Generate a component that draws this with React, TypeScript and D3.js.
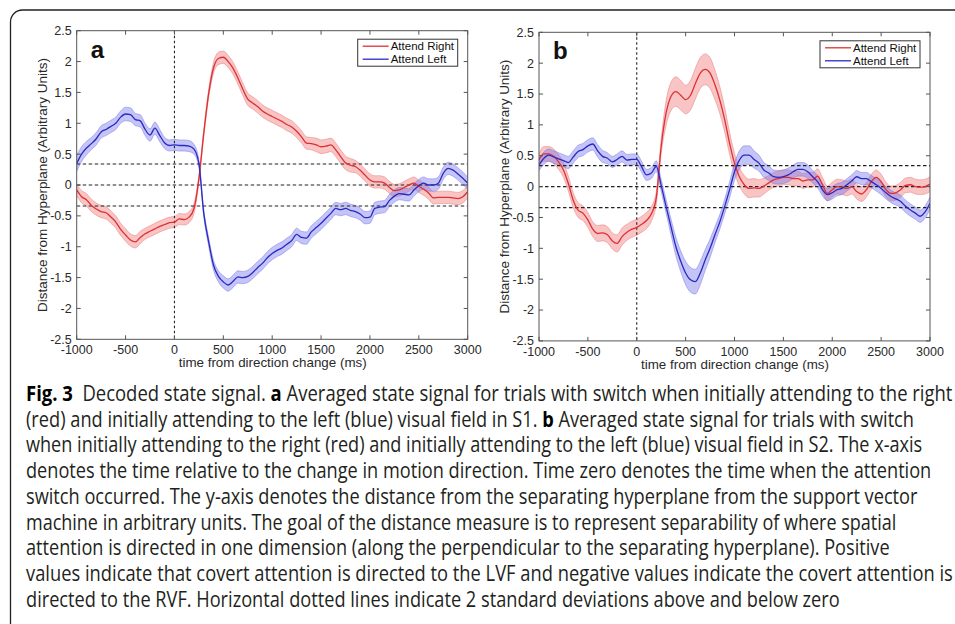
import React, { useEffect, useRef } from "react";
import * as d3 from "d3";

// time grid of the decoded signal (ms), one sample every 50 ms
const timeMs = d3.range(-1000, 3001, 50);
const xTicks = [-1000, -500, 0, 500, 1000, 1500, 2000, 2500, 3000];
const yTicks = [-2.5, -2, -1.5, -1, -0.5, 0, 0.5, 1, 1.5, 2, 2.5];
const sdLimit = 0.34;

// S1 (panel a)
const s1Right = [
  -0.08, -0.19, -0.24, -0.33, -0.39, -0.43, -0.45, -0.52, -0.6, -0.72, -0.81, -0.89, -0.92, -0.85, -0.79, -0.75, -0.71,
  -0.67, -0.64, -0.61, -0.6, -0.55, -0.56, -0.52, -0.38, 0.1, 0.84, 1.48, 1.9, 2.05, 2.07, 2.0, 1.89, 1.73, 1.55, 1.39,
  1.33, 1.27, 1.2, 1.15, 1.11, 1.07, 1.03, 0.98, 0.94, 0.87, 0.78, 0.68, 0.67, 0.65, 0.62, 0.63, 0.65, 0.57, 0.46, 0.36,
  0.32, 0.3, 0.24, 0.16, 0.08, 0.05, 0.05, 0.03, -0.04, -0.09, -0.08, -0.04, 0.0, 0.03, -0.02, -0.07, -0.13, -0.21, -0.2,
  -0.2, -0.2, -0.21, -0.22, -0.19, -0.11,
];
const s1RightErr = [
  0.09, 0.1, 0.1, 0.1, 0.1, 0.1, 0.1, 0.1, 0.1, 0.1, 0.1, 0.1, 0.1, 0.1, 0.09, 0.09, 0.09, 0.09, 0.09, 0.09, 0.09, 0.09,
  0.09, 0.09, 0.08, 0.06, 0.06, 0.07, 0.09, 0.1, 0.1, 0.1, 0.1, 0.1, 0.1, 0.1, 0.1, 0.1, 0.1, 0.1, 0.1, 0.1, 0.1, 0.1,
  0.1, 0.1, 0.1, 0.1, 0.1, 0.11, 0.11, 0.11, 0.11, 0.11, 0.11, 0.11, 0.11, 0.1, 0.1, 0.1, 0.1, 0.1, 0.1, 0.1, 0.1, 0.1,
  0.1, 0.1, 0.1, 0.1, 0.1, 0.1, 0.1, 0.1, 0.1, 0.1, 0.1, 0.1, 0.1, 0.1, 0.1,
];
const s1Left = [
  0.35, 0.5, 0.6, 0.67, 0.75, 0.86, 0.9, 0.95, 1.0, 1.1, 1.15, 1.14, 1.06, 1.04, 0.9, 0.81, 0.92, 0.8, 0.68, 0.64, 0.65,
  0.64, 0.64, 0.63, 0.58, 0.35, -0.46, -0.92, -1.3, -1.48, -1.57, -1.62, -1.56, -1.49, -1.5, -1.48, -1.42, -1.34, -1.27,
  -1.18, -1.11, -1.06, -1.02, -0.96, -0.9, -0.8, -0.85, -0.86, -0.76, -0.69, -0.62, -0.54, -0.46, -0.38, -0.4, -0.38,
  -0.41, -0.43, -0.47, -0.53, -0.52, -0.38, -0.36, -0.35, -0.25, -0.18, -0.14, -0.15, -0.16, -0.08, -0.01, 0.03, 0.0,
  0.0, 0.03, 0.19, 0.27, 0.24, 0.18, 0.11, 0.03,
];
const s1LeftErr = [
  0.13, 0.12, 0.11, 0.1, 0.1, 0.1, 0.1, 0.1, 0.1, 0.1, 0.11, 0.11, 0.1, 0.1, 0.1, 0.1, 0.1, 0.1, 0.09, 0.09, 0.09, 0.09,
  0.09, 0.09, 0.08, 0.06, 0.06, 0.07, 0.08, 0.09, 0.1, 0.1, 0.1, 0.1, 0.1, 0.1, 0.1, 0.1, 0.1, 0.1, 0.1, 0.1, 0.1, 0.1,
  0.1, 0.1, 0.1, 0.1, 0.1, 0.1, 0.1, 0.1, 0.1, 0.1, 0.1, 0.1, 0.1, 0.1, 0.1, 0.1, 0.1, 0.1, 0.1, 0.1, 0.1, 0.1, 0.1, 0.1,
  0.1, 0.1, 0.1, 0.1, 0.1, 0.1, 0.1, 0.1, 0.1, 0.1, 0.1, 0.1, 0.1,
];

// S2 (panel b)
const s2Right = [
  0.43, 0.53, 0.53, 0.49, 0.4, 0.27, 0.05, -0.22, -0.38, -0.43, -0.54, -0.69, -0.76, -0.75, -0.78, -0.88, -0.92, -0.81,
  -0.74, -0.69, -0.66, -0.61, -0.55, -0.44, -0.18, 0.65, 1.19, 1.46, 1.54, 1.48, 1.41, 1.48, 1.67, 1.84, 1.9, 1.84, 1.65,
  1.4, 1.08, 0.7, 0.38, 0.16, 0.03, -0.03, -0.02, -0.03, 0.01, 0.06, 0.11, 0.13, 0.15, 0.15, 0.13, 0.13, 0.09, 0.11, 0.11,
  0.17, 0.03, -0.11, -0.05, 0.0, -0.01, -0.03, 0.0, -0.08, -0.12, -0.05, 0.08, 0.15, 0.08, -0.05, -0.11, -0.1, -0.05,
  0.02, 0.03, 0.0, -0.01, 0.0, 0.04,
];
const s2RightErr = [
  0.1, 0.12, 0.12, 0.12, 0.12, 0.12, 0.12, 0.12, 0.12, 0.12, 0.12, 0.12, 0.13, 0.13, 0.13, 0.13, 0.14, 0.14, 0.13, 0.13,
  0.13, 0.13, 0.13, 0.12, 0.1, 0.12, 0.2, 0.23, 0.24, 0.24, 0.23, 0.24, 0.25, 0.25, 0.25, 0.25, 0.24, 0.22, 0.2, 0.18,
  0.16, 0.15, 0.15, 0.15, 0.15, 0.14, 0.13, 0.12, 0.12, 0.12, 0.12, 0.12, 0.12, 0.12, 0.12, 0.12, 0.12, 0.12, 0.12, 0.12,
  0.12, 0.12, 0.12, 0.12, 0.12, 0.12, 0.12, 0.12, 0.12, 0.12, 0.12, 0.12, 0.12, 0.12, 0.12, 0.12, 0.12, 0.12, 0.12, 0.12,
  0.12,
];
const s2Left = [
  0.35, 0.46, 0.51, 0.48, 0.45, 0.42, 0.39, 0.48, 0.57, 0.6, 0.66, 0.69, 0.58, 0.49, 0.46, 0.4, 0.44, 0.49, 0.43, 0.44,
  0.44, 0.32, 0.19, 0.22, 0.33, 0.02, -0.32, -0.65, -0.97, -1.21, -1.4, -1.51, -1.54, -1.4, -1.19, -1.0, -0.78, -0.57,
  -0.32, -0.05, 0.24, 0.43, 0.51, 0.51, 0.44, 0.38, 0.27, 0.22, 0.16, 0.15, 0.16, 0.19, 0.24, 0.28, 0.28, 0.24, 0.16, 0.08,
  -0.05, -0.13, -0.1, -0.05, -0.03, 0.03, 0.09, 0.16, 0.13, 0.13, 0.08, 0.03, -0.03, -0.1, -0.16, -0.2, -0.24, -0.32,
  -0.38, -0.43, -0.48, -0.41, -0.27,
];
const s2LeftErr = [
  0.09, 0.1, 0.1, 0.1, 0.1, 0.1, 0.1, 0.1, 0.1, 0.1, 0.1, 0.1, 0.1, 0.1, 0.09, 0.09, 0.09, 0.09, 0.09, 0.09, 0.09, 0.09,
  0.09, 0.09, 0.09, 0.1, 0.11, 0.13, 0.15, 0.17, 0.19, 0.2, 0.2, 0.19, 0.17, 0.15, 0.13, 0.12, 0.12, 0.13, 0.14, 0.15,
  0.15, 0.15, 0.14, 0.13, 0.12, 0.12, 0.11, 0.11, 0.11, 0.11, 0.11, 0.11, 0.11, 0.11, 0.1, 0.1, 0.1, 0.1, 0.1, 0.1, 0.1,
  0.1, 0.1, 0.1, 0.1, 0.1, 0.1, 0.1, 0.1, 0.1, 0.1, 0.1, 0.1, 0.1, 0.1, 0.1, 0.1, 0.1, 0.1,
];

const legendLabels = ["Attend Right", "Attend Left"];
const xLabel = "time from direction change (ms)";
const yLabel = "Distance from Hyperplane (Arbitrary Units)";

// caption: segments of [text, bold]
const captionLines: [string, boolean][][] = [
  [["Fig. 3", true], ["  Decoded state signal. ", false], ["a", true], [" Averaged state signal for trials with switch when initially attending to the right", false]],
  [["(red) and initially attending to the left (blue) visual field in S1. ", false], ["b", true], [" Averaged state signal for trials with switch", false]],
  [["when initially attending to the right (red) and initially attending to the left (blue) visual field in S2. The x-axis", false]],
  [["denotes the time relative to the change in motion direction. Time zero denotes the time when the attention", false]],
  [["switch occurred. The y-axis denotes the distance from the separating hyperplane from the support vector", false]],
  [["machine in arbitrary units. The goal of the distance measure is to represent separability of where spatial", false]],
  [["attention is directed in one dimension (along the perpendicular to the separating hyperplane). Positive", false]],
  [["values indicate that covert attention is directed to the LVF and negative values indicate the covert attention is", false]],
  [["directed to the RVF. Horizontal dotted lines indicate 2 standard deviations above and below zero", false]],
];
const captionEnds = [953, 915, 923, 932, 918, 897, 890, 953, 840];

const panels = [
  { letter: "a", left: 76.7, top: 30.7, right: s1Right, rightErr: s1RightErr, leftS: s1Left, leftErr: s1LeftErr },
  { letter: "b", left: 539, top: 32.3, right: s2Right, rightErr: s2RightErr, leftS: s2Left, leftErr: s2LeftErr },
];

const W = 391;
const H = 308.6;
const RED = "rgb(222,48,52)";
const BLUE = "rgb(42,42,196)";
const AX = "#555";
const TXT = "#2a2a2a";
const chartFont = "'Liberation Sans', Arial, Helvetica, sans-serif";

// squeeze a text node horizontally to a given width (the reference figure is narrowed)
function fitWidth(node, width, tx, ty, rotate = 0) {
  const len = node.getComputedTextLength() || width;
  const sx = width / len;
  node.setAttribute("transform", `translate(${tx},${ty}) rotate(${rotate}) scale(${sx},1)`);
}

export default function App() {
  const svgRef = useRef<SVGSVGElement>(null);

  useEffect(() => {
    const svg = d3.select(svgRef.current);
    svg.selectAll("*").remove();

    // figure frame
    svg
      .append("path")
      .attr("d", "M10.5,624 L10.5,22 A12,12 0 0 1 22.5,10 L955,10")
      .attr("fill", "none")
      .attr("stroke", "#222")
      .attr("stroke-width", 1.3);

    const x = d3.scaleLinear().domain([-1000, 3000]).range([0, W]);
    const y = d3.scaleLinear().domain([-2.5, 2.5]).range([H, 0]);

    panels.forEach((p, pi) => {
      const g = svg.append("g").attr("transform", `translate(${p.left},${p.top})`);
      const clipId = `clip-${pi}`;
      g.append("clipPath").attr("id", clipId).append("rect").attr("width", W).attr("height", H);
      const data = g.append("g").attr("clip-path", `url(#${clipId})`);

      const series = [
        { v: p.right, e: p.rightErr, color: RED, fill: "rgb(240,125,125)", edge: "rgb(232,110,110)" },
        { v: p.leftS, e: p.leftErr, color: BLUE, fill: "rgb(125,125,238)", edge: "rgb(110,110,230)" },
      ];

      series.forEach((s) => {
        const area = d3
          .area<number>()
          .x((d, i) => x(timeMs[i]))
          .y0((d, i) => y(d - s.e[i]))
          .y1((d, i) => y(d + s.e[i]))
          .curve(d3.curveMonotoneX);
        data.append("path").datum(s.v).attr("d", area).attr("fill", s.fill).attr("fill-opacity", 0.45);
        [1, -1].forEach((sign) => {
          const edge = d3
            .line<number>()
            .x((d, i) => x(timeMs[i]))
            .y((d, i) => y(d + sign * s.e[i]))
            .curve(d3.curveMonotoneX);
          data
            .append("path")
            .datum(s.v)
            .attr("d", edge)
            .attr("fill", "none")
            .attr("stroke", s.edge)
            .attr("stroke-opacity", 0.55)
            .attr("stroke-width", 0.8);
        });
      });

      // reference lines
      [sdLimit, 0, -sdLimit].forEach((v) => {
        data
          .append("line")
          .attr("x1", 0)
          .attr("x2", W)
          .attr("y1", y(v))
          .attr("y2", y(v))
          .attr("stroke", "#222")
          .attr("stroke-width", 1.1)
          .attr("stroke-dasharray", "3.5,2.5");
      });
      data
        .append("line")
        .attr("x1", x(0))
        .attr("x2", x(0))
        .attr("y1", 0)
        .attr("y2", H)
        .attr("stroke", "#222")
        .attr("stroke-width", 1.1)
        .attr("stroke-dasharray", "2.5,2.5");

      series.forEach((s) => {
        const line = d3
          .line<number>()
          .x((d, i) => x(timeMs[i]))
          .y((d) => y(d))
          .curve(d3.curveMonotoneX);
        data
          .append("path")
          .datum(s.v)
          .attr("d", line)
          .attr("fill", "none")
          .attr("stroke", s.color)
          .attr("stroke-width", 1.3);
      });

      // box + inward ticks on all sides
      g.append("rect")
        .attr("width", W)
        .attr("height", H)
        .attr("fill", "none")
        .attr("stroke", AX)
        .attr("stroke-width", 1);
      xTicks.forEach((t) => {
        [
          [H, H - 4],
          [0, 4],
        ].forEach(([a, b]) =>
          g.append("line").attr("x1", x(t)).attr("x2", x(t)).attr("y1", a).attr("y2", b).attr("stroke", AX)
        );
      });
      yTicks.forEach((t) => {
        [
          [0, 4],
          [W, W - 4],
        ].forEach(([a, b]) =>
          g.append("line").attr("x1", a).attr("x2", b).attr("y1", y(t)).attr("y2", y(t)).attr("stroke", AX)
        );
      });

      // tick labels
      g.selectAll(".xt")
        .data(xTicks)
        .join("text")
        .attr("x", (d) => x(d))
        .attr("y", H + 15)
        .attr("text-anchor", "middle")
        .attr("font-family", chartFont)
        .attr("font-size", 12.5)
        .attr("fill", TXT)
        .text((d) => String(d));
      g.selectAll(".yt")
        .data(yTicks)
        .join("text")
        .attr("x", -5)
        .attr("y", (d) => y(d))
        .attr("dy", "0.35em")
        .attr("text-anchor", "end")
        .attr("font-family", chartFont)
        .attr("font-size", 12.5)
        .attr("fill", TXT)
        .text((d) => String(d));

      // axis labels
      const xl = g
        .append("text")
        .attr("text-anchor", "middle")
        .attr("font-family", chartFont)
        .attr("font-size", 13.4)
        .attr("fill", TXT)
        .text(xLabel);
      fitWidth(xl.node(), 188, W / 2 + 0.5, H + 28);
      const yl = g
        .append("text")
        .attr("text-anchor", "middle")
        .attr("font-family", chartFont)
        .attr("font-size", 13.2)
        .attr("fill", TXT)
        .text(yLabel);
      fitWidth(yl.node(), 254, -30, H / 2, -90);

      // panel letter
      g.append("text")
        .attr("x", 14)
        .attr("y", 27)
        .attr("font-family", chartFont)
        .attr("font-weight", "bold")
        .attr("font-size", 24)
        .attr("fill", "#111")
        .text(p.letter);

      // legend
      const lw = 100;
      const lh = 27;
      const lg = g.append("g").attr("transform", `translate(${W - 10 - lw},${8.5})`);
      lg.append("rect")
        .attr("width", lw)
        .attr("height", lh)
        .attr("fill", "#fff")
        .attr("stroke", "#333")
        .attr("stroke-width", 1);
      legendLabels.forEach((lab, i) => {
        const cy = 7 + i * 13;
        lg.append("line")
          .attr("x1", 5)
          .attr("x2", 31)
          .attr("y1", cy)
          .attr("y2", cy)
          .attr("stroke", i === 0 ? RED : BLUE)
          .attr("stroke-width", 1.3);
        lg.append("text")
          .attr("x", 33)
          .attr("y", cy + 4)
          .attr("font-family", chartFont)
          .attr("font-size", 11.5)
          .attr("fill", "#111")
          .text(lab);
      });
    });

    // caption
    captionLines.forEach((segs, i) => {
      const t = svg
        .append("text")
        .attr("font-family", "'Open Sans', 'Noto Sans', sans-serif")
        .attr("font-size", 21.5)
        .attr("fill", "#231f20")
        .style("white-space", "pre");
      segs.forEach(([txt, bold]) => {
        t.append("tspan")
          .attr("font-weight", bold ? "bold" : "normal")
          .attr("fill", bold ? "#000" : "#231f20")
          .text(txt);
      });
      fitWidth(t.node(), captionEnds[i] - 26, 26, 401 + i * 25.7);
    });
  }, []);

  return (
    <svg
      ref={svgRef}
      width={955}
      height={624}
      style={{ position: "absolute", left: 0, top: 0, background: "#fff" }}
    />
  );
}
